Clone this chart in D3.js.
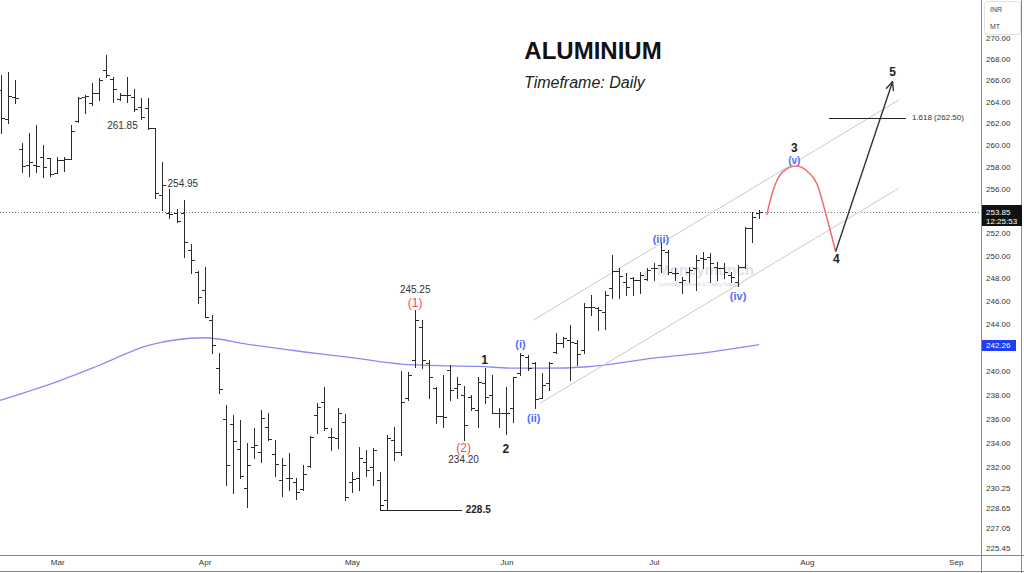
<!DOCTYPE html>
<html><head><meta charset="utf-8">
<script src="https://cdn.jsdelivr.net/npm/d3@7"></script>
<style>html,body{margin:0;padding:0;background:#fff;overflow:hidden}svg{display:block}</style>
</head><body><svg id="c" width="1024" height="573"></svg>
<script>
// ---------- data ----------
const opens=[265.1,262.4,264.46,259.61,258.15,258.15,258.85,258.76,257.45,258.6,
258.67,262.2,264.46,263.9,264.83,266.96,266.1,264.21,264.61,264.46,
263.53,263.38,261.52,255.44,253.8,253.78,253.78,250.5,248.59,247.0,
244.38,240.25,235.96,235.57,233.47,230.27,233.68,233.27,235.34,233.08,
230.95,231.14,230.81,230.19,232.09,236.32,237.43,234.5,234.37,235.68,
230.81,231.09,232.44,232.03,230.95,229.32,234.23,233.23,237.74,240.95,
243.8,240.67,238.58,236.23,240.1,238.58,237.99,237.85,236.74,238.97,
237.99,236.46,236.46,236.88,239.82,241.23,240.72,237.71,238.97,241.66,
242.38,242.66,242.38,241.8,245.54,245.4,245.04,247.14,248.68,247.71,
248.01,247.86,247.92,248.88,249.18,250.33,248.5,247.71,248.59,248.88,
249.8,249.89,249.03,248.88,248.3,247.71,249.03,252.46,253.8];
const highs=[266.5,266.8,266.0,260.14,261.06,261.82,259.98,258.76,258.91,258.9,
261.82,264.46,264.6,265.71,266.18,268.4,266.27,264.78,266.33,265.14,
264.31,264.31,261.52,258.45,255.94,254.13,254.97,251.04,248.68,248.98,
244.82,241.52,237.15,236.32,235.9,233.96,235.21,236.74,236.46,234.23,
232.72,233.18,231.09,232.17,234.56,237.29,238.69,235.21,236.88,236.4,
231.62,233.68,233.41,233.6,231.62,234.64,235.34,240.02,239.96,245.25,
244.38,240.95,238.69,239.68,240.53,239.53,238.75,237.99,239.53,240.25,
239.68,236.88,238.69,239.53,241.55,241.37,240.81,239.82,240.81,243.22,
242.94,243.95,242.66,245.83,246.56,245.54,246.9,250.06,248.88,248.5,
248.15,248.59,248.88,249.32,251.1,250.5,248.88,248.15,249.03,250.06,
250.36,250.21,249.47,249.32,248.59,249.18,252.58,253.92,254.1];
const lows=[261.1,262.04,263.84,257.54,257.15,257.54,257.03,257.15,257.45,257.6,
258.67,262.13,262.9,263.7,264.15,266.27,263.99,264.15,263.99,263.13,
262.35,261.43,255.13,254.07,253.33,253.03,249.91,248.5,245.89,244.62,
241.52,238.14,230.54,229.86,231.09,228.78,232.72,232.44,234.23,231.23,
229.64,230.13,229.38,230.13,232.03,234.79,235.07,233.41,233.55,229.32,
229.99,230.13,231.23,230.54,228.6,228.5,232.58,232.99,237.57,240.36,
240.27,237.71,235.62,235.34,237.57,237.74,234.2,236.74,235.34,237.29,
236.46,235.34,234.73,235.76,239.68,240.1,236.88,237.71,238.41,241.52,
242.08,239.25,240.53,241.57,244.82,243.52,243.58,246.27,246.27,246.56,
246.56,246.76,247.86,247.86,248.59,248.39,247.86,246.71,247.71,246.98,
248.88,247.71,247.86,248.01,247.71,247.34,248.91,251.24,253.35];
const closes=[262.5,264.55,264.31,258.05,258.45,258.05,257.99,257.33,258.6,258.67,
261.3,264.3,264.52,264.78,266.0,266.5,265.14,264.61,264.61,263.29,
262.6,261.52,255.58,256.33,253.71,253.12,251.24,249.62,246.36,244.62,
242.23,238.48,232.17,234.17,231.27,232.17,233.82,236.04,234.29,232.23,
232.17,231.11,229.99,231.44,234.5,236.96,235.21,234.5,236.46,229.54,
231.0,232.72,231.77,233.41,228.9,234.4,233.27,237.41,239.68,244.38,
240.95,239.53,236.23,236.15,238.41,238.92,235.48,236.88,239.11,237.85,
236.49,236.46,236.46,239.48,241.37,240.25,237.63,238.84,240.67,242.38,
242.8,242.49,241.46,245.54,245.54,245.25,246.56,248.68,248.21,247.25,
247.86,248.3,248.74,248.88,250.5,248.59,248.5,247.86,248.74,249.62,
249.71,249.32,248.88,248.59,248.1,249.03,252.44,253.47,253.85];

// 200-day moving average (bar index, value)
const maIdx=[-0.3,7,14,21,29,35,43,50,57,64,68,73,78,83,93,100,108];
const maVal=[237.5,238.9,240.5,242.2,242.85,242.3,241.65,241.15,240.6,240.45,240.4,240.25,240.25,240.35,241.1,241.55,242.26];

// projection path (bar index, price)
const projIdx=[109.07,110.0,111.4,113.3,114.95,116.2,117.6,118.9];
const projVal=[253.63,255.87,257.54,258.05,257.51,256.48,253.47,250.36];
const arrowIdx=[118.9,127.0];
const arrowVal=[250.36,265.86];

// channel lines
const chanUpIdx=[75.9,127.9], chanUpVal=[244.38,264.15];
const chanLoIdx=[76.8,127.9], chanLoVal=[237.3,256.03];

const fibIdx=[118,128.9], fibVal=262.5, fibLabel="1.618 (262.50)";
const lowLineIdx=[54,65.7], lowLineVal=228.5;

const lastPrice=253.85, lastTime="12:25:53", maLast=242.26;
const priceTicks=[270,268,266,264,262,260,258,256,252,250,248,246,244,240,238,236,234,232,230.25,228.65,227.05,225.45];
const months=["Mar","Apr","May","Jun","Jul","Aug","Sep"];
const monthIdx=[8,29,50,72,93,114.8,136];

// annotations: text, index, price, colour, size, weight, anchor
const notes=[
 ["261.85",17.3,261.76,"#333",10,"normal","middle"],
 ["254.95",25.9,256.48,"#333",10,"normal","middle"],
 ["245.25",59,247.05,"#333",10,"normal","middle"],
 ["(1)",59,245.83,"#f04a62",12,"normal","middle"],
 ["(2)",65.9,233.55,"#f04a62",12,"normal","middle"],
 ["234.20",65.9,232.58,"#333",10,"normal","middle"],
 ["1",68.9,240.95,"#222",12,"bold","middle"],
 ["2",71.9,233.47,"#222",12,"bold","middle"],
 ["(i)",74.0,242.32,"#4f6ff5",11,"bold","middle"],
 ["(ii)",75.9,236.03,"#4f6ff5",11,"bold","middle"],
 ["(iii)",94.0,251.46,"#4f6ff5",11,"bold","middle"],
 ["(iv)",105.0,246.47,"#4f6ff5",11,"bold","middle"],
 ["(v)",113.0,258.55,"#4f6ff5",10,"bold","middle"],
 ["3",113.0,259.7,"#222",12,"bold","middle"],
 ["4",119.0,249.68,"#222",12,"bold","middle"],
 ["5",127.0,266.8,"#222",12,"bold","middle"],
 ["228.5",66.2,228.5,"#222",10,"bold","start"]
];

// ---------- drawing ----------
const svg=d3.select("#c");
const FONT="'Liberation Sans', Arial, sans-serif";
const plotR=981, plotB=555;
const x=d3.scaleLinear().domain([0,100]).range([1,703]);
const y=d3.scaleLog().domain([225.45,270]).range([548,38]);

svg.append("rect").attr("width",1024).attr("height",573).attr("fill","#fff");
svg.append("defs").append("clipPath").attr("id","clip").append("rect")
  .attr("x",0).attr("y",0).attr("width",plotR).attr("height",plotB);
svg.select("defs").append("marker").attr("id","arr").attr("viewBox","0 0 10 10")
  .attr("refX",9).attr("refY",5).attr("markerWidth",7).attr("markerHeight",7)
  .attr("orient","auto").append("path").attr("d","M0,1 L9,5 L0,9")
  .attr("fill","none").attr("stroke","#333").attr("stroke-width",1.4);

const g=svg.append("g").attr("clip-path","url(#clip)");

// watermark
g.append("text").attr("x",x(93.5)).attr("y",y(248.3)).attr("font-family",FONT)
  .attr("font-size",15).attr("font-weight","bold").attr("fill","#c9cee0").attr("opacity",0.6)
  .text("Moneymunch");
g.append("text").attr("x",x(93.6)).attr("y",y(247.35)).attr("font-family",FONT)
  .attr("font-size",4.5).attr("fill","#c4cadf").attr("opacity",0.8)
  .text("Commodity Research & Trading Strategy");
g.append("path").attr("d",`M${x(91.2)},${y(248.1)} l6,-9 l0,11 z`).attr("fill","#cfd5e8").attr("opacity",0.7);

// last price dotted line
g.append("line").attr("x1",0).attr("x2",plotR).attr("y1",Math.round(y(lastPrice))+0.5).attr("y2",Math.round(y(lastPrice))+0.5)
  .attr("stroke","#777").attr("stroke-dasharray","1,2");

// moving average
const ma=maIdx.map((d,i)=>[d,maVal[i]]);
g.append("path").datum(ma).attr("fill","none").attr("stroke","#8a8af5").attr("stroke-width",1.3)
  .attr("d",d3.line().x(d=>x(d[0])).y(d=>y(d[1])).curve(d3.curveMonotoneX));

// channel
[[chanUpIdx,chanUpVal],[chanLoIdx,chanLoVal]].forEach(([ix,vv])=>{
  g.append("line").attr("x1",x(ix[0])).attr("y1",y(vv[0])).attr("x2",x(ix[1])).attr("y2",y(vv[1]))
   .attr("stroke","#c9c9c9").attr("stroke-width",1);
});

// bars
const bars=g.append("g").attr("stroke","#2b2b2b").attr("stroke-width",1).attr("shape-rendering","crispEdges");
opens.forEach((o,i)=>{
  const cx=Math.round(x(i))+0.5;
  bars.append("line").attr("x1",cx).attr("x2",cx).attr("y1",Math.round(y(highs[i]))).attr("y2",Math.round(y(lows[i]))+1);
  const yo=Math.round(y(o))+0.5, yc=Math.round(y(closes[i]))+0.5;
  bars.append("line").attr("x1",cx-3.5).attr("x2",cx).attr("y1",yo).attr("y2",yo);
  bars.append("line").attr("x1",cx).attr("x2",cx+3.5).attr("y1",yc).attr("y2",yc);
});

// 228.5 low line
g.append("line").attr("x1",x(lowLineIdx[0])).attr("x2",x(lowLineIdx[1]))
  .attr("y1",Math.round(y(lowLineVal))+0.5).attr("y2",Math.round(y(lowLineVal))+0.5)
  .attr("stroke","#222").attr("shape-rendering","crispEdges");

// projection
const proj=projIdx.map((d,i)=>[d,projVal[i]]);
g.append("path").datum(proj).attr("fill","none").attr("stroke","#f36b6b").attr("stroke-width",1.5)
  .attr("d",d3.line().x(d=>x(d[0])).y(d=>y(d[1])).curve(d3.curveMonotoneX));
g.append("line").attr("x1",x(arrowIdx[0])).attr("y1",y(arrowVal[0])).attr("x2",x(arrowIdx[1])).attr("y2",y(arrowVal[1]))
  .attr("stroke","#333").attr("stroke-width",1.4).attr("marker-end","url(#arr)");

// fib
g.append("line").attr("x1",x(fibIdx[0])).attr("x2",x(fibIdx[1])).attr("y1",Math.round(y(fibVal))+0.5).attr("y2",Math.round(y(fibVal))+0.5)
  .attr("stroke","#222").attr("shape-rendering","crispEdges");
g.append("text").attr("x",x(fibIdx[1])+6).attr("y",y(fibVal)).attr("dy","0.35em")
  .attr("font-family",FONT).attr("font-size",8).attr("fill","#333").text(fibLabel);

// annotations
notes.forEach(n=>{
  g.append("text").attr("x",x(n[1])).attr("y",y(n[2])).attr("dy","0.35em")
   .attr("text-anchor",n[6]).attr("font-family",FONT).attr("font-size",n[4]).attr("font-weight",n[5])
   .attr("fill",n[3]).text(n[0]);
});

// title
svg.append("text").attr("x",593).attr("y",59).attr("text-anchor","middle").attr("font-family",FONT)
  .attr("font-size",24).attr("font-weight","bold").attr("fill","#111").text("ALUMINIUM");
svg.append("text").attr("x",524).attr("y",88).attr("font-family",FONT)
  .attr("font-size",16).attr("font-style","italic").attr("fill","#222").text("Timeframe: Daily");

// frame
const frame=svg.append("g").attr("stroke","#8a8a8a").attr("shape-rendering","crispEdges");
frame.append("line").attr("x1",plotR+0.5).attr("x2",plotR+0.5).attr("y1",0).attr("y2",573);
frame.append("line").attr("x1",1021.5).attr("x2",1021.5).attr("y1",0).attr("y2",573);
frame.append("line").attr("x1",0).attr("x2",1024).attr("y1",plotB+0.5).attr("y2",plotB+0.5);
frame.append("line").attr("x1",0).attr("x2",1024).attr("y1",571.5).attr("y2",571.5);

// right axis
const ra=svg.append("g").attr("transform",`translate(${plotR},0)`)
  .call(d3.axisRight(y).tickValues(priceTicks).tickSize(0).tickPadding(5).tickFormat(d3.format(".2f")));
ra.select(".domain").remove();
ra.selectAll("text").attr("font-family",FONT).attr("font-size",8).attr("fill","#333");

// bottom axis
const ba=svg.append("g").attr("transform",`translate(0,${plotB})`)
  .call(d3.axisBottom(x).tickValues(monthIdx).tickSize(0).tickPadding(4).tickFormat((d,i)=>months[i]));
ba.select(".domain").remove();
ba.selectAll("text").attr("font-family",FONT).attr("font-size",8).attr("fill","#333");

// INR / MT box
svg.append("rect").attr("x",984.5).attr("y",1.5).attr("width",36).attr("height",33).attr("rx",3)
  .attr("fill","#fff").attr("stroke","#e2e2e2");
svg.append("text").attr("x",990).attr("y",12).attr("font-family",FONT).attr("font-size",7).attr("fill","#444").text("INR");
svg.append("text").attr("x",990).attr("y",29).attr("font-family",FONT).attr("font-size",7).attr("fill","#444").text("MT");

// last price label
const yl=y(lastPrice);
svg.append("rect").attr("x",plotR+1).attr("y",Math.round(yl)-7).attr("width",40).attr("height",21).attr("fill","#111");
svg.append("text").attr("x",plotR+5).attr("y",yl).attr("dy","0.35em").attr("font-family",FONT).attr("font-size",8)
  .attr("fill","#fff").text(lastPrice.toFixed(2));
svg.append("text").attr("x",plotR+5).attr("y",yl+9).attr("dy","0.35em").attr("font-family",FONT).attr("font-size",8)
  .attr("fill","#fff").text(lastTime);

// MA label
const ym=y(maLast);
svg.append("rect").attr("x",plotR+1).attr("y",Math.round(ym)-5).attr("width",34).attr("height",11).attr("fill","#1f3dfa");
svg.append("text").attr("x",plotR+5).attr("y",ym+0.5).attr("dy","0.35em").attr("font-family",FONT).attr("font-size",8)
  .attr("fill","#fff").text(maLast.toFixed(2));
</script></body></html>
